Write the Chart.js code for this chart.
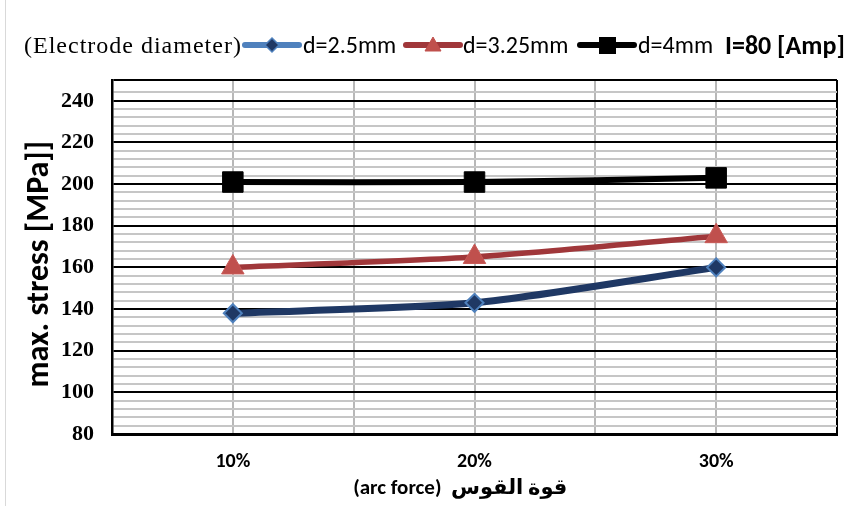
<!DOCTYPE html>
<html><head><meta charset="utf-8">
<script src="https://cdn.jsdelivr.net/npm/chart.js@4.4.0/dist/chart.umd.min.js"></script>
<style>
html,body{margin:0;padding:0;background:#fff;}
#wrap{position:relative;width:847px;height:506px;overflow:hidden;background:#fff;}
#frame{position:absolute;left:5px;top:0;width:1px;height:506px;background:#d9d9d9;}
#c{position:absolute;left:0;top:0;}
.lt{position:absolute;white-space:nowrap;color:#000;line-height:30px;height:30px;top:30px;}
.ser{font-family:"Liberation Serif","Times New Roman",serif;font-size:24px;letter-spacing:1px;}
.san{font-family:Carlito,Lato,"Open Sans",sans-serif;font-size:24px;}
.bold{font-weight:bold;font-size:26px;}
svg.mk{position:absolute;top:33px;}
</style></head>
<body><div id="wrap">
<canvas id="c" width="847" height="506"></canvas>
<div id="frame"></div>
<span class="lt ser" style="left:24px">(Electrode diameter)</span>
<svg class="mk" style="left:240px" width="64" height="24"><line x1="5" y1="12" x2="59" y2="12" stroke="#4f81bd" stroke-width="6" stroke-linecap="round"/><polygon points="32,5 39,12 32,19 25,12" fill="#1f3864" stroke="#4f81bd" stroke-width="1.5"/></svg>
<span class="lt san" style="left:303px">d=2.5mm</span>
<svg class="mk" style="left:401px" width="64" height="24"><line x1="5" y1="12" x2="59" y2="12" stroke="#a0373a" stroke-width="6" stroke-linecap="round"/><polygon points="32,4 40,18 24,18" fill="#c0504d" stroke="#c0504d" stroke-width="1"/></svg>
<span class="lt san" style="left:463px">d=3.25mm</span>
<svg class="mk" style="left:575px" width="64" height="24"><line x1="5" y1="12" x2="59" y2="12" stroke="#000" stroke-width="6" stroke-linecap="round"/><rect x="24" y="4" width="17" height="17" fill="#000"/></svg>
<span class="lt san" style="left:638px">d=4mm</span>
<span class="lt san bold" style="left:725px">I=80 [Amp]</span>
</div>
<script>
const categories = ['10%', '20%', '30%'];
const d25 = [138, 143, 160];
const d325 = [160, 165, 175];
const d4 = [201, 201, 203];
const yTickLabels = [80, 100, 120, 140, 160, 180, 200, 220, 240];
const seriesNames = ['d=2.5mm', 'd=3.25mm', 'd=4mm'];

const pts = arr => arr.map((v, i) => ({x: i + 0.5, y: v}));

new Chart(document.getElementById('c'), {
  type: 'line',
  data: {
    datasets: [
      {label: seriesNames[0], data: pts(d25), borderColor: '#1f3864', borderWidth: 7,
       pointStyle: 'rectRot', pointRadius: 9, pointBackgroundColor: '#1f3864',
       pointBorderColor: '#4f81bd', pointBorderWidth: 2, tension: 0.25},
      {label: seriesNames[1], data: pts(d325), borderColor: '#a0373a', borderWidth: 5.5,
       pointStyle: 'triangle', pointRadius: 13, pointBackgroundColor: '#c0504d',
       pointBorderColor: '#c85a57', pointBorderWidth: 1, tension: 0.25},
      {label: seriesNames[2], data: pts(d4), borderColor: '#000000', borderWidth: 6,
       pointStyle: 'rect', pointRadius: 14.5, pointBackgroundColor: '#000000',
       pointBorderColor: '#000000', pointBorderWidth: 1, tension: 0.25}
    ]
  },
  options: {
    responsive: false,
    animation: false,
    layout: {autoPadding: false, padding: {top: 80, right: 10, left: 0, bottom: 0}},
    plugins: {legend: {display: false}, tooltip: {enabled: false}},
    scales: {
      x: {
        type: 'linear', min: 0, max: 3,
        afterFit: a => { a.height = 72; },
        afterBuildTicks: a => { a.ticks = [0, 0.5, 1, 1.5, 2, 2.5, 3].map(v => ({value: v})); },
        ticks: {
          autoSkip: false, maxRotation: 0, padding: 0, color: '#000',
          font: {family: 'Carlito, Lato, sans-serif', size: 20, weight: 'bold'},
          callback: v => { const i = v - 0.5; return Number.isInteger(i) && categories[i] ? categories[i] : ''; }
        },
        grid: {drawTicks: true, tickLength: 16, tickColor: 'rgba(0,0,0,0)', lineWidth: 2,
          color: c => (c.tick && (c.tick.value === 3)) ? '#000' : '#b8b8b8'},
        border: {color: '#000', width: 3},
        title: {display: true, text: '(arc force)  قوة القوس      ', color: '#000',
          font: {family: 'Carlito, Lato, "DejaVu Sans", sans-serif', size: 21, weight: 'bold'},
          padding: {top: 0, bottom: 5}}
      },
      y: {
        min: 80, max: 250,
        afterFit: a => { a.width = 112; },
        ticks: {stepSize: 4, autoSkip: false, padding: 18, color: '#000',
          font: {family: '"Liberation Serif", "Times New Roman", serif', size: 22, weight: 'bold'},
          callback: v => yTickLabels.includes(v) ? String(v) : ''},
        grid: {drawTicks: false, lineWidth: 2,
          color: c => { const v = c.tick ? c.tick.value : 0; return (yTickLabels.includes(v) || v === 250) ? '#000' : '#c6c6c6'; }},
        border: {color: '#000', width: 2.5},
        title: {display: true, text: 'max. stress [MPa]]  ', color: '#000',
          font: {family: 'Carlito, Lato, sans-serif', size: 32, weight: 'bold'},
          padding: {top: 21, bottom: 0}}
      }
    }
  }
});
</script>
</body></html>
